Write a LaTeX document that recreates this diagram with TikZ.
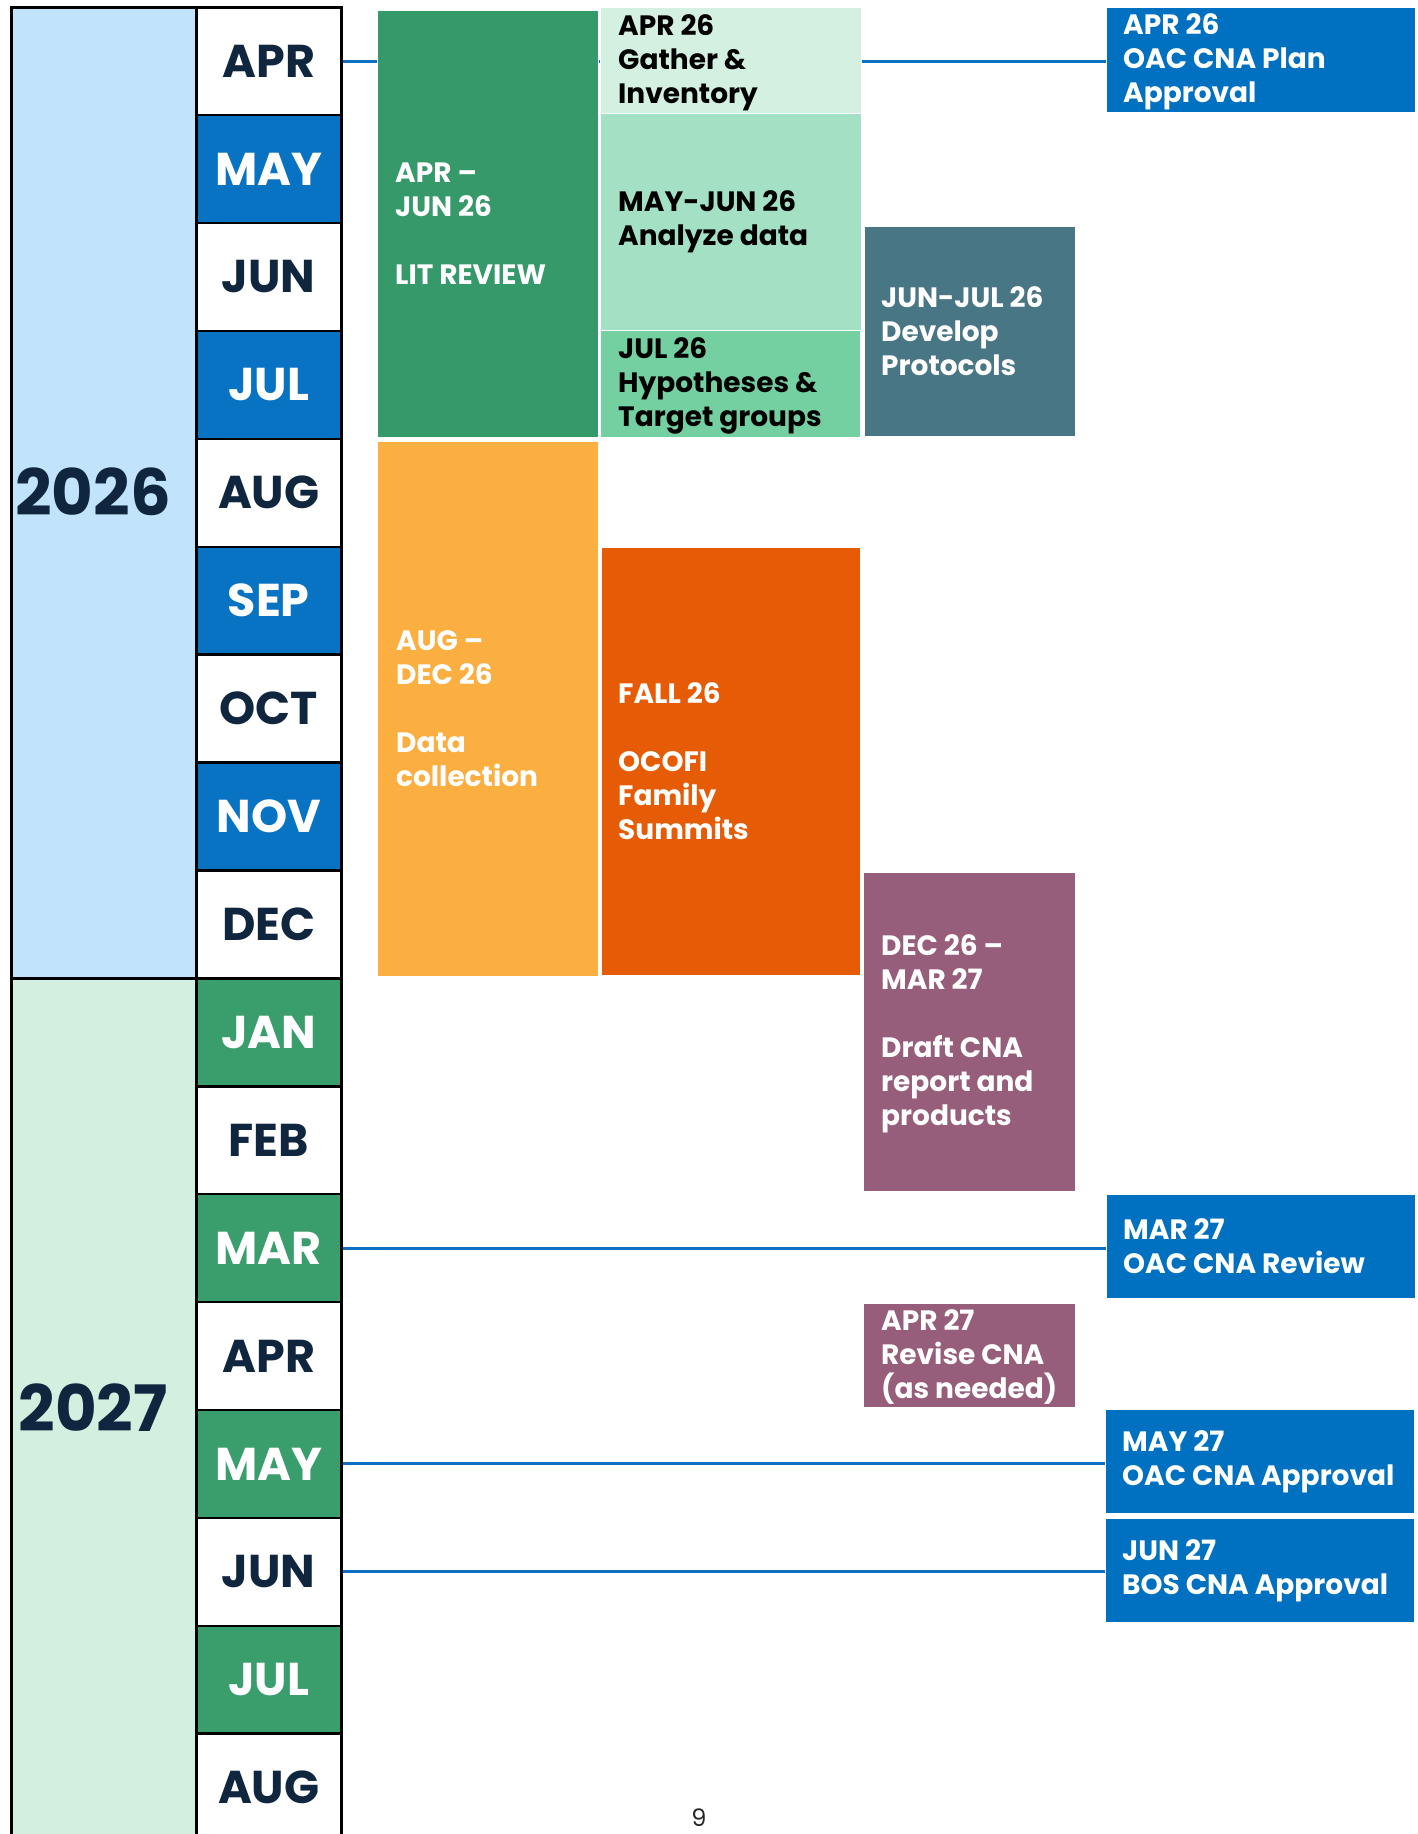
\documentclass[tikz,border=0pt]{standalone}
\usepackage{fontspec}
\setmainfont{Poppins}
\usetikzlibrary{backgrounds}
\definecolor{navy}{HTML}{10263F}
\definecolor{yearblue}{HTML}{C1E4FC}
\definecolor{yeargreen}{HTML}{D3EFE0}
\definecolor{monthblue}{HTML}{0873C2}
\definecolor{monthgreen}{HTML}{3A9D6C}
\definecolor{litgreen}{HTML}{35996A}
\definecolor{gathercol}{HTML}{D4F0E1}
\definecolor{analyzecol}{HTML}{A3E0C4}
\definecolor{hypocol}{HTML}{74CFA1}
\definecolor{protocol}{HTML}{497684}
\definecolor{oacblue}{HTML}{0070C0}
\definecolor{orangecol}{HTML}{FBAF41}
\definecolor{redorange}{HTML}{E65C06}
\definecolor{mauve}{HTML}{965E7A}
\definecolor{linecol}{HTML}{0B6FC2}
\newcommand{\actfont}{\bfseries\fontsize{28}{34}\selectfont}
\newcommand{\monthfont}{\bfseries\fontsize{46}{50}\selectfont}
\newcommand{\yearfont}{\bfseries\fontsize{64}{70}\selectfont}
\begin{document}
\begin{tikzpicture}[x=1pt,y=-1pt,
  yearcell/.style={rectangle, draw=black, line width=3pt, minimum width=185.5pt, inner sep=0pt, anchor=north west},
  yeartext/.style={text=navy, font=\yearfont, inner sep=0pt},
  monthcell/.style={rectangle, draw=black, line width=2.5pt, minimum width=145pt, minimum height=107.9pt, font=\monthfont, inner sep=0pt},
  mw/.style={fill=white, text=navy},
  mb/.style={fill=monthblue, text=white},
  mg/.style={fill=monthgreen, text=white},
  actbox/.style={rectangle, draw=white, line width=0.8pt, inner sep=0pt, anchor=north west},
  acttext/.style={align=left, font=\actfont, inner sep=0pt, anchor=west},
  conn/.style={draw=linecol, line width=3pt}
]
\useasboundingbox (0,0) rectangle (1418,1834);
\clip (0,0) rectangle (1418,1834);

% year column
\node[yearcell, fill=yearblue, minimum height=971pt] (y2026) at (9.5,6) {};
\node[yearcell, fill=yeargreen, minimum height=870pt] (y2027) at (9.5,977) {};
\node[yeartext] (t2026) at (93,492) {2026};
\node[yeartext] (t2027) at (93,1408) {2027};

% month column
\foreach \lab/\sty [count=\i from 0] in {APR/mw,MAY/mb,JUN/mw,JUL/mb,AUG/mw,SEP/mb,OCT/mw,NOV/mb,DEC/mw,JAN/mg,FEB/mw,MAR/mg,APR/mw,MAY/mg,JUN/mw,JUL/mg,AUG/mw}
  \node[monthcell,\sty,anchor=north west] (m\i) at (195,{6+107.9*\i}) {\lab};

% activity boxes
\node[actbox, fill=litgreen,   minimum width=221pt, minimum height=427pt] (lit) at (377,10) {};
\node[actbox, fill=gathercol,  minimum width=261pt, minimum height=106pt] (gather) at (600,7) {};
\node[actbox, fill=analyzecol, minimum width=261pt, minimum height=217pt] (analyze) at (600,113) {};
\node[actbox, fill=hypocol,    minimum width=260pt, minimum height=107pt] (hypo) at (600,330) {};
\node[actbox, fill=protocol,   minimum width=211pt, minimum height=210pt] (protocols) at (864,226) {};
\node[actbox, fill=oacblue,    minimum width=309pt, minimum height=105pt] (oacplan) at (1106,7) {};
\node[actbox, fill=orangecol,  minimum width=221pt, minimum height=535pt] (datacoll) at (377,441) {};
\node[actbox, fill=redorange,  minimum width=259pt, minimum height=428pt] (ocofi) at (601,547) {};
\node[actbox, fill=mauve,      minimum width=212pt, minimum height=319pt] (draft) at (863,872) {};
\node[actbox, fill=oacblue,    minimum width=309pt, minimum height=104pt] (marrev) at (1106,1194) {};
\node[actbox, fill=mauve,      minimum width=212pt, minimum height=104pt] (revise) at (863,1303) {};
\node[actbox, fill=oacblue,    minimum width=309pt, minimum height=104pt] (mayapp) at (1105,1409) {};
\node[actbox, fill=oacblue,    minimum width=309pt, minimum height=104pt] (junapp) at (1105,1518) {};

% texts of the boxes
\node[acttext, text=white] (lit-t) at ([xshift=18pt]lit.west) {APR –\\JUN 26\\[34pt]LIT REVIEW};
\node[acttext, text=black] (gather-t) at ([xshift=18pt,yshift=-2pt]gather.west) {APR 26\\Gather \&\\Inventory};
\node[acttext, text=black] (analyze-t) at ([xshift=18pt]analyze.west) {MAY-JUN 26\\Analyze data};
\node[acttext, text=black] (hypo-t) at ([xshift=18pt,yshift=-2pt]hypo.west) {JUL 26\\Hypotheses \&\\Target groups};
\node[acttext, text=white] (protocols-t) at ([xshift=17pt]protocols.west) {JUN-JUL 26\\Develop\\Protocols};
\node[acttext, text=white] (oacplan-t) at ([xshift=17pt,yshift=-2pt]oacplan.west) {APR 26\\OAC CNA Plan\\Approval};
\node[acttext, text=white] (datacoll-t) at ([xshift=19pt]datacoll.west) {AUG –\\DEC 26\\[34pt]Data\\collection};
\node[acttext, text=white] (ocofi-t) at ([xshift=17pt]ocofi.west) {FALL 26\\[34pt]OCOFI\\Family\\Summits};
\node[acttext, text=white] (draft-t) at ([xshift=18pt,yshift=-2pt]draft.west) {DEC 26 –\\MAR 27\\[34pt]Draft CNA\\report and\\products};
\node[acttext, text=white] (marrev-t) at ([xshift=17pt]marrev.west) {MAR 27\\OAC CNA Review};
\node[acttext, text=white] (revise-t) at ([xshift=18pt,yshift=-2pt]revise.west) {APR 27\\Revise CNA\\(as needed)};
\node[acttext, text=white] (mayapp-t) at ([xshift=17pt]mayapp.west) {MAY 27\\OAC CNA Approval};
\node[acttext, text=white] (junapp-t) at ([xshift=17pt]junapp.west) {JUN 27\\BOS CNA Approval};

% page number
\node[font=\fontsize{24}{26}\selectfont, text=black!85, inner sep=0pt] (pagenum) at (699,1818) {9};

% connectors behind boxes
\begin{pgfonlayer}{background}
  \fill[white] (0,0) rectangle (1418,1834);
  \draw[conn] (m0.east) -- (m0.east -| oacplan.west);
  \draw[conn] (m11.east) -- (m11.east -| marrev.west);
  \draw[conn] (m13.east) -- (m13.east -| mayapp.west);
  \draw[conn] (m14.east) -- (m14.east -| junapp.west);
\end{pgfonlayer}
\end{tikzpicture}
\end{document}
